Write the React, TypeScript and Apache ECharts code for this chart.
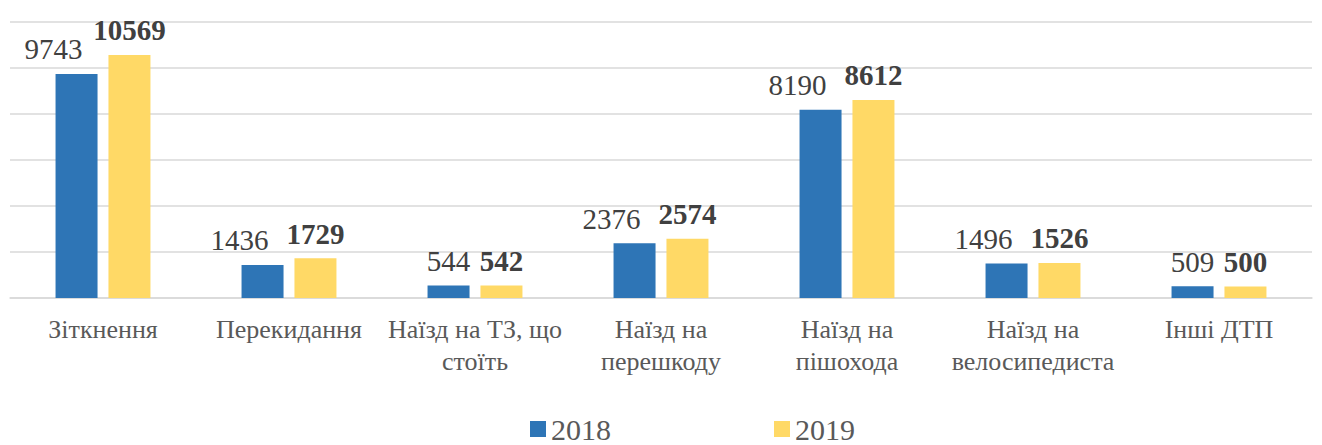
import React, { useEffect, useRef } from "react";
import * as echarts from "echarts";

const categories = [
  "Зіткнення",
  "Перекидання",
  "Наїзд на ТЗ, що\nстоїть",
  "Наїзд на\nперешкоду",
  "Наїзд на\nпішохода",
  "Наїзд на\nвелосипедиста",
  "Інші ДТП",
];
const values2018 = [9743, 1436, 544, 2376, 8190, 1496, 509];
const values2019 = [10569, 1729, 542, 2574, 8612, 1526, 500];
const seriesNames = ["2018", "2019"];

const FONT = "Liberation Serif, Times New Roman, serif";

export default function App() {
  const ref = useRef<HTMLDivElement>(null);
  useEffect(() => {
    if (!ref.current) return;
    const chart = echarts.init(ref.current, null, { renderer: "svg" });
    const data2018 = values2018.map((v, i) => {
      const crowded = v >= 1000 && values2019[i] >= 1000;
      return crowded ? { value: v, label: { offset: [-23, 0] } } : { value: v };
    });
    chart.setOption({
      animation: false,
      textStyle: { fontFamily: FONT },
      grid: { left: 10, right: 10, top: 22, bottom: 147, containLabel: false },
      legend: {
        left: 530,
        top: 414,
        padding: 0,
        itemWidth: 16,
        itemHeight: 16,
        itemGap: 163,
        itemTextGap: 7,
        icon: "rect",
        textStyle: { fontFamily: FONT, fontSize: 30, lineHeight: 30, color: "#595959" },
        data: seriesNames,
      },
      xAxis: {
        type: "category",
        data: categories,
        axisTick: { show: false },
        axisLine: { lineStyle: { color: "#d9d9d9", width: 1.5 } },
        axisLabel: {
          interval: 0,
          margin: 15,
          fontFamily: FONT,
          fontSize: 26,
          lineHeight: 32,
          color: "#595959",
        },
      },
      yAxis: {
        type: "value",
        min: 0,
        max: 12000,
        interval: 2000,
        axisLabel: { show: false },
        axisLine: { show: false },
        axisTick: { show: false },
        splitLine: { lineStyle: { color: "#d9d9d9", width: 1.5 } },
      },
      series: [
        {
          name: seriesNames[0],
          type: "bar",
          barWidth: 42,
          barGap: "26%",
          itemStyle: { color: "#2E75B6" },
          label: {
            show: true,
            position: "top",
            distance: 10,
            fontFamily: FONT,
            fontSize: 29,
            color: "#404040",
          },
          data: data2018,
        },
        {
          name: seriesNames[1],
          type: "bar",
          barWidth: 42,
          barGap: "26%",
          itemStyle: { color: "#FFD966" },
          label: {
            show: true,
            position: "top",
            distance: 10,
            fontFamily: FONT,
            fontSize: 29,
            fontWeight: "bold",
            color: "#404040",
          },
          data: values2019,
        },
      ],
    });
    return () => chart.dispose();
  }, []);
  return (
    <div
      ref={ref}
      style={{ position: "fixed", left: 0, top: 0, width: 1322, height: 445, background: "#fff" }}
    />
  );
}
